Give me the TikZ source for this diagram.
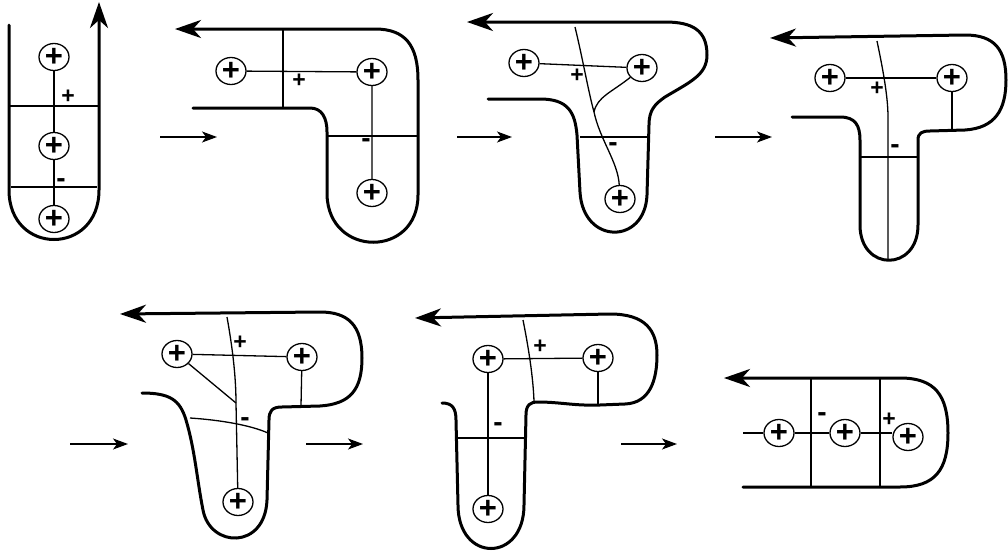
\documentclass[tikz,border=0pt]{standalone}
\usepackage{fontspec}
\setmainfont{Liberation Sans}
\usetikzlibrary{arrows.meta,shapes.geometric}
\begin{document}
\begin{tikzpicture}[x=0.5pt,y=-0.5pt,
  wall/.style={line width=1.5pt,line cap=round,line join=round},
  wallarrow/.style={wall,-{Stealth[length=13pt,width=9pt,inset=4pt]}},
  thin/.style={line width=0.65pt},
  flow/.style={line width=0.65pt,-{Stealth[length=7.5pt,width=5.5pt,inset=2pt]}},
  pc/.style={draw,ellipse,line width=0.65pt,minimum width=15pt,minimum height=13.5pt,inner sep=0pt,
     font=\fontsize{15.5}{15.5}\selectfont\bfseries},
  sgn/.style={inner sep=0pt,font=\fontsize{11.5}{11.5}\selectfont\bfseries},
  sgm/.style={inner sep=0pt,font=\fontsize{14}{14}\selectfont\bfseries}]
\useasboundingbox (0,0) rectangle (1008,552);

% ---------- Panel 1 ----------
\draw[wallarrow] (9,25) -- (9,190) .. controls (9,256) and (99,256) .. (99,190) -- (99,2);
\node[pc] (p11) at (54,57) {+};
\node[pc] (p12) at (54,146) {+};
\node[pc] (p13) at (54,219) {+};
\draw[thin] (p11) -- (p12) -- (p13);
\draw[thin] (9,106) -- (99,106);
\draw[thin] (11,187) -- (97,187);
\node[sgn] (s1p) at (68,97) {+};
\node[sgm] (s1m) at (61,183) {-};

% arrow 1
\coordinate (a1s) at (160,137); \coordinate (a1e) at (217,137);
\draw[flow] (a1s) -- (a1e);

% ---------- Panel 2 ----------
\draw[wallarrow] (193,108) -- (310,108) .. controls (322,108) and (327,118) .. (327,132)
  -- (327,195) .. controls (329,258) and (418,258) .. (418,195)
  -- (418,80) .. controls (418,45) and (405,29) .. (375,29) -- (175,29);
\draw[thin] (283,29) -- (283,108);
\node[pc] (p21) at (231,71) {+};
\node[pc] (p22) at (372,72) {+};
\node[pc] (p23) at (372,193) {+};
\draw[thin] (p21) -- (p22) -- (p23);
\draw[thin] (328,136) -- (418,136);
\node[sgn] (s2p) at (299,81) {+};
\node[sgm] (s2m) at (366,143) {-};

% arrow 2
\coordinate (a2s) at (457,137); \coordinate (a2e) at (512,137);
\draw[flow] (a2s) -- (a2e);

% ---------- Panel 3 ----------
\draw[wallarrow] (488,99) -- (540,99) .. controls (568,99) and (575,112) .. (577,135)
  -- (580,192) .. controls (583,245) and (645,245) .. (647,195)
  -- (649,125) .. controls (649,110) and (655,104) .. (665,97)
  .. controls (690,82) and (707,75) .. (707,55) .. controls (707,30) and (692,22) .. (665,22) -- (467,22);
\node[pc] (p31) at (524,63) {+};
\node[pc] (p32) at (642,68) {+};
\node[pc] (p33) at (620,199) {+};
\draw[thin] (p31) -- (p32);
\coordinate (m3) at (594,112);
\draw[thin] (575,27) .. controls (583,60) and (588,90) .. (m3) .. controls (600,140) and (618,162) .. (p33);
\draw[thin] (p32) .. controls (612,92) and (597,97) .. (m3);
\draw[thin] (580,137) -- (649,137);
\node[sgn] (s3p) at (577,76) {+};
\node[sgm] (s3m) at (613,147) {-};

% arrow 3
\coordinate (a3s) at (715,137); \coordinate (a3e) at (772,137);
\draw[flow] (a3s) -- (a3e);

% ---------- Panel 4 ----------
\draw[wallarrow] (792,117) -- (840,117) .. controls (855,117) and (860,125) .. (860,140)
  -- (860,225) .. controls (860,272) and (918,272) .. (918,225)
  -- (918,140) .. controls (918,133) and (922,131) .. (930,131) -- (965,130)
  .. controls (995,128) and (1006,110) .. (1006,80) .. controls (1006,50) and (995,35) .. (965,35) -- (770,38);
\node[pc] (p41) at (830,78) {+};
\node[pc] (p42) at (952,78) {+};
\draw[thin] (p41) -- (p42);
\draw[thin] (877,41) .. controls (882,65) and (888,95) .. (888,117) -- (888,260);
\draw[thin] (p42) -- (952,130);
\draw[thin] (860,157) -- (918,157);
\node[sgn] (s4p) at (877,89) {+};
\node[sgm] (s4m) at (895,149) {-};

% arrow 4
\coordinate (a4s) at (70,444); \coordinate (a4e) at (128,444);
\draw[flow] (a4s) -- (a4e);

% ---------- Panel 5 ----------
\draw[wallarrow] (142,393) .. controls (170,393) and (180,400) .. (186,420)
  .. controls (195,450) and (197,480) .. (203,510) .. controls (210,548) and (265,550) .. (267,500)
  -- (269,420) .. controls (269,411) and (272,407) .. (282,407) -- (320,406)
  .. controls (350,404) and (362,390) .. (362,358) .. controls (362,325) and (348,312) .. (320,312) -- (120,314);
\node[pc] (p51) at (177,354) {+};
\node[pc] (p52) at (302,357) {+};
\node[pc] (p53) at (238,502) {+};
\draw[thin] (p51) -- (p52);
\coordinate (m5) at (236,403);
\draw[thin] (227,317) .. controls (232,345) and (236,375) .. (m5) -- (p53);
\draw[thin] (p51) -- (m5);
\draw[thin] (p52) -- (301,406);
\draw[thin] (190,418) .. controls (220,420) and (250,425) .. (268,433);
\node[sgn] (s5p) at (240,343) {+};
\node[sgm] (s5m) at (245,422) {-};

% arrow 5
\coordinate (a5s) at (306,444); \coordinate (a5e) at (363,444);
\draw[flow] (a5s) -- (a5e);

% ---------- Panel 6 ----------
\draw[wallarrow] (442,403) .. controls (452,403) and (456,408) .. (456,420)
  -- (458,505) .. controls (458,563) and (524,563) .. (524,505)
  -- (526,415) .. controls (526,405) and (530,402) .. (538,402)
  .. controls (560,402) and (575,406) .. (600,405) -- (625,404)
  .. controls (650,403) and (657,380) .. (657,355) .. controls (657,330) and (645,314) .. (610,314) -- (415,318);
\node[pc] (p61) at (488,359) {+};
\node[pc] (p62) at (598,358) {+};
\node[pc] (p63) at (488,509) {+};
\draw[thin] (p61) -- (p62);
\draw[thin] (p61) -- (p63);
\draw[thin] (p62) -- (598,404);
\draw[thin] (523,320) .. controls (528,345) and (533,375) .. (534,401);
\draw[thin] (457,438) -- (526,438);
\node[sgn] (s6p) at (540,347) {+};
\node[sgm] (s6m) at (498,427) {-};

% arrow 6
\coordinate (a6s) at (621,444); \coordinate (a6e) at (677,444);
\draw[flow] (a6s) -- (a6e);

% ---------- Panel 7 ----------
\draw[wallarrow] (743,487) -- (900,487) .. controls (935,487) and (948,470) .. (948,433)
  .. controls (948,395) and (935,378) .. (900,378) -- (724,378);
\draw[thin] (811,378) -- (811,487);
\draw[thin] (880,378) -- (880,487);
\node[pc] (p71) at (779,433) {+};
\node[pc] (p72) at (845,433) {+};
\node[pc] (p73) at (908,437) {+};
\coordinate (e7) at (743,433);
\draw[thin] (e7) -- (p71) -- (p72) -- (p73.west |- p72);
\node[sgm] (s7m) at (822,417) {-};
\node[sgn] (s7p) at (889,420) {+};
\end{tikzpicture}
\end{document}
